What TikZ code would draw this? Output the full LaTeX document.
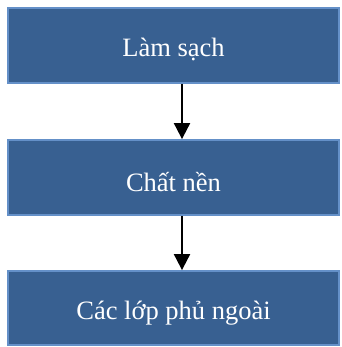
\documentclass[tikz,border=0pt]{standalone}
\usepackage{fontspec}
\setmainfont{Liberation Serif}
\usetikzlibrary{arrows.meta}
\definecolor{boxfill}{RGB}{56,96,145}
\definecolor{boxedge}{RGB}{100,144,200}
\begin{document}
\begin{tikzpicture}[x=1pt,y=1pt,
  box/.style={rectangle, draw=boxedge, fill=boxfill, line width=1.8pt,
    minimum width=331pt, inner sep=0pt, text=white, text depth=0pt,
    font=\fontsize{26.5}{30}\selectfont},
  conn/.style={line width=2pt, -{Triangle[width=16pt,length=16pt]}}]
\useasboundingbox (0,0) rectangle (341,347);
\node[box, minimum height=75pt, text height=23pt] (b1) at (173.5,301.5) {Làm sạch};
\node[box, minimum height=75pt, text height=29pt] (b2) at (173.5,169.5) {Chất nền};
\node[box, minimum height=74pt, text height=24pt] (b3) at (173.5,39) {Các lớp phủ ngoài};
\coordinate (a1s) at ([xshift=8.5pt]b1.south);
\coordinate (a1e) at ([xshift=8.5pt]b2.north);
\coordinate (a2s) at ([xshift=8.5pt]b2.south);
\coordinate (a2e) at ([xshift=8.5pt]b3.north);
\draw[conn] (a1s) -- (a1e);
\draw[conn] (a2s) -- (a2e);
\end{tikzpicture}
\end{document}
